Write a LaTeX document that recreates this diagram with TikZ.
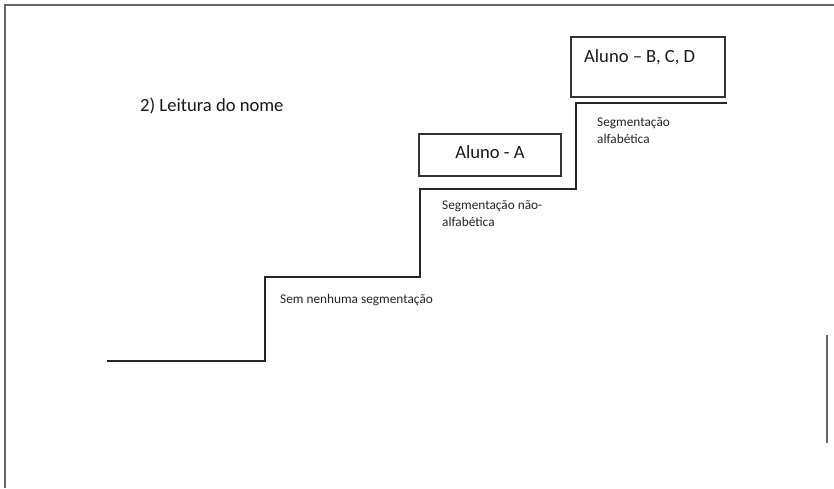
\documentclass[tikz,border=0pt]{standalone}
\usepackage{fontspec}
\setmainfont{Carlito}
\begin{document}
\begin{tikzpicture}[x=1pt,y=-1pt,
  frameline/.style={draw=black!60,line width=1.4pt},
  stairline/.style={draw=black!85,line width=2pt,line join=miter},
  studentbox/.style={draw=black!80,line width=1.1pt,inner sep=0pt},
  bigtext/.style={font=\fontsize{18.6}{20}\selectfont,text=black!90,inner sep=0pt},
  smalltext/.style={font=\fontsize{13.3}{17}\selectfont,text=black!85,inner sep=0pt,align=left}]
  \useasboundingbox (0,0) rectangle (834,488);
  \fill[white] (0,0) rectangle (834,488);
  % page frame
  \coordinate (fl) at (5,488);
  \coordinate (tl) at (5,5);
  \coordinate (tr) at (834,5);
  \coordinate (ra) at (827,335);
  \coordinate (rb) at (827,443);
  \draw[frameline] (fl) -- (tl) -- (tr);
  \draw[frameline] (ra) -- (rb);
  % title
  \node[bigtext,anchor=west] (title) at (140,106) {2) Leitura do nome};
  % staircase
  \coordinate (s0) at (107,361);
  \coordinate (s1) at (265,361);
  \coordinate (s2) at (265,277);
  \coordinate (s3) at (420,277);
  \coordinate (s4) at (420,189);
  \coordinate (s5) at (576,189);
  \coordinate (s6) at (576,103);
  \coordinate (s7) at (727,103);
  \draw[stairline] (s0) -- (s1) -- (s2) -- (s3) -- (s4) -- (s5) -- (s6) -- (s7);
  % step labels
  \node[smalltext,anchor=west] (l1) at (280,300) {Sem nenhuma segmentação};
  \node[smalltext,anchor=north west] (l2) at (442,200) {Segmentação não-\\alfabética};
  \node[smalltext,anchor=north west] (l3) at (597,117) {Segmentação\\alfabética};
  % student boxes
  \node[studentbox,minimum width=142pt,minimum height=42pt] (ba) at (490,155) {};
  \node[bigtext] (ta) at (490,152) {Aluno - A};
  \node[studentbox,minimum width=154pt,minimum height=60pt] (bb) at (648,67) {};
  \node[bigtext,anchor=west] (tb) at (584,57) {Aluno – B, C, D};
\end{tikzpicture}
\end{document}
